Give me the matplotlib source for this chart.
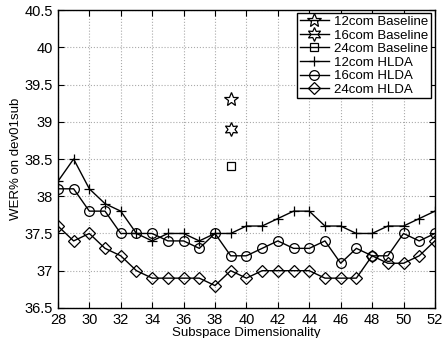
import matplotlib
matplotlib.use("Agg")
import matplotlib.pyplot as plt

dims = list(range(28, 53))
hlda12 = [38.2, 38.5, 38.1, 37.9, 37.8, 37.5, 37.4, 37.5, 37.5, 37.4, 37.5, 37.5, 37.6,
          37.6, 37.7, 37.8, 37.8, 37.6, 37.6, 37.5, 37.5, 37.6, 37.6, 37.7, 37.8]
hlda16 = [38.1, 38.1, 37.8, 37.8, 37.5, 37.5, 37.5, 37.4, 37.4, 37.3, 37.5, 37.2, 37.2,
          37.3, 37.4, 37.3, 37.3, 37.4, 37.1, 37.3, 37.2, 37.2, 37.5, 37.4, 37.5]
hlda24 = [37.6, 37.4, 37.5, 37.3, 37.2, 37.0, 36.9, 36.9, 36.9, 36.9, 36.8, 37.0, 36.9,
          37.0, 37.0, 37.0, 37.0, 36.9, 36.9, 36.9, 37.2, 37.1, 37.1, 37.2, 37.4]
base_dim = [39]
base12 = [39.3]
base16 = [38.9]
base24 = [38.4]
xticks = list(range(28, 53, 2))
yticks = [36.5, 37, 37.5, 38, 38.5, 39, 39.5, 40, 40.5]

plt.rcParams['font.family'] = ['Liberation Sans', 'DejaVu Sans']
fig = plt.figure(figsize=(4.42, 3.38), dpi=100)
ax = fig.add_axes([0.131, 0.089, 0.853, 0.881])

kw = dict(color='black', lw=1.0, mfc='none', mec='black', mew=0.9)
ax.plot(base_dim, base12, marker='*', ms=10, label='12com Baseline', **kw)
ax.plot(base_dim, base16, marker=(6, 1, 0), ms=10, label='16com Baseline', **kw)
ax.plot(base_dim, base24, marker='s', ms=5.5, label='24com Baseline', **kw)
ax.plot(dims, hlda12, marker='+', ms=7, label='12com HLDA', **kw)
ax.plot(dims, hlda16, marker='o', ms=7, label='16com HLDA', **kw)
ax.plot(dims, hlda24, marker='D', ms=6, label='24com HLDA', **kw)

ax.set_xlim(28, 52)
ax.set_ylim(36.5, 40.5)
ax.set_xticks(xticks)
ax.set_yticks(yticks)
ax.set_yticklabels(['36.5', '37', '37.5', '38', '38.5', '39', '39.5', '40', '40.5'])
ax.tick_params(direction='in', top=True, right=True, labelsize=10.5, length=4)
ax.grid(True, linestyle=':', color='#aaaaaa', lw=0.8)
for s in ax.spines.values():
    s.set_linewidth(1.0)
ax.set_xlabel('Subspace Dimensionality', fontsize=9.5, labelpad=0)
ax.set_ylabel('WER% on dev01sub', fontsize=9.5, labelpad=2)

leg = ax.legend(loc='upper right', bbox_to_anchor=(0.99, 0.99), fontsize=9.5, frameon=True,
                fancybox=False, edgecolor='black', framealpha=1, borderpad=0.2,
                labelspacing=0.1, handlelength=2.2, handletextpad=0.4, borderaxespad=0)
leg.get_frame().set_linewidth(1.0)

fig.savefig('out.png', dpi=100)
